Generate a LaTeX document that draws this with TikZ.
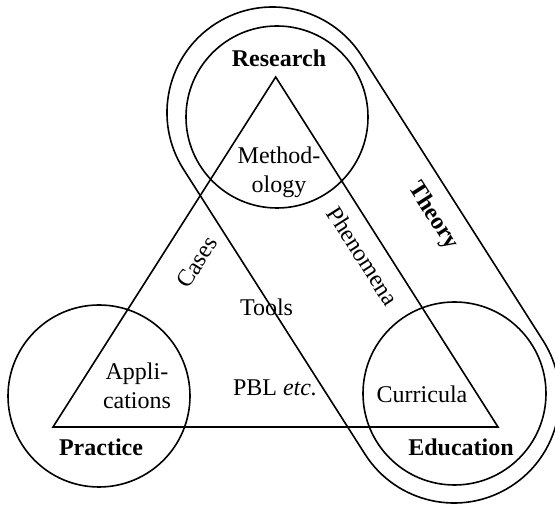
\documentclass[tikz,border=0pt]{standalone}
\usepackage{fontspec}
\setmainfont{Liberation Serif}
\usetikzlibrary{shapes.misc}
\begin{document}
\begin{tikzpicture}[x=1pt,y=1pt,
  line/.style={line width=1.6pt},
  ring/.style={circle, draw, line width=1.6pt, inner sep=0pt},
  txt/.style={font=\fontsize{24}{29.5}\selectfont, inner sep=0pt, anchor=base, align=center},
  head/.style={txt, font=\fontsize{24}{29.5}\selectfont\bfseries},
]
\useasboundingbox (0,0) rectangle (555,506);
\clip (0,0) rectangle (555,506);

% band joining research and education
\node[rounded rectangle, draw, line width=1.6pt, minimum width=548.9pt,
      minimum height=211.2pt, inner sep=0pt, rotate=-57.5] (theory) at (363.3,251) {};

% the three domains
\node[ring, minimum size=182pt] (research) at (277,389) {};
\node[ring, minimum size=182pt] (practice) at (99,110) {};
\node[ring, minimum size=183pt] (education) at (454.5,112.5) {};

% triangle between the domains
\coordinate (apex) at (275.7,429);
\coordinate (lcorner) at (53,79);
\coordinate (rcorner) at (498,79);
\draw[line, line join=miter] (apex) -- (lcorner) -- (rcorner) -- cycle;

% headings
\node[head] (tresearch) at (279,439) {Research};
\node[head] (tpractice) at (101,50) {Practice};
\node[head] (teducation) at (461,50) {Education};
\node[head, anchor=center, rotate=-57.5] (ttheory) at (433,290) {Theory};

% inner labels (base anchor sits on the last line)
\node[txt] (tmethod) at (279,313) {Method-\\ology};
\node[txt] (tappli) at (137,97) {Appli-\\cations};
\node[txt] (tcurr) at (422,103) {Curricula};
\node[txt] (ttools) at (266.5,190) {Tools};
\node[txt] (tpbl) at (275,110) {PBL \textit{etc.}};
\node[txt, anchor=center, rotate=57.5] (tcases) at (197,244) {Cases};
\node[txt, anchor=center, rotate=-57.5] (tphen) at (363,250) {Phenomena};
\end{tikzpicture}
\end{document}
